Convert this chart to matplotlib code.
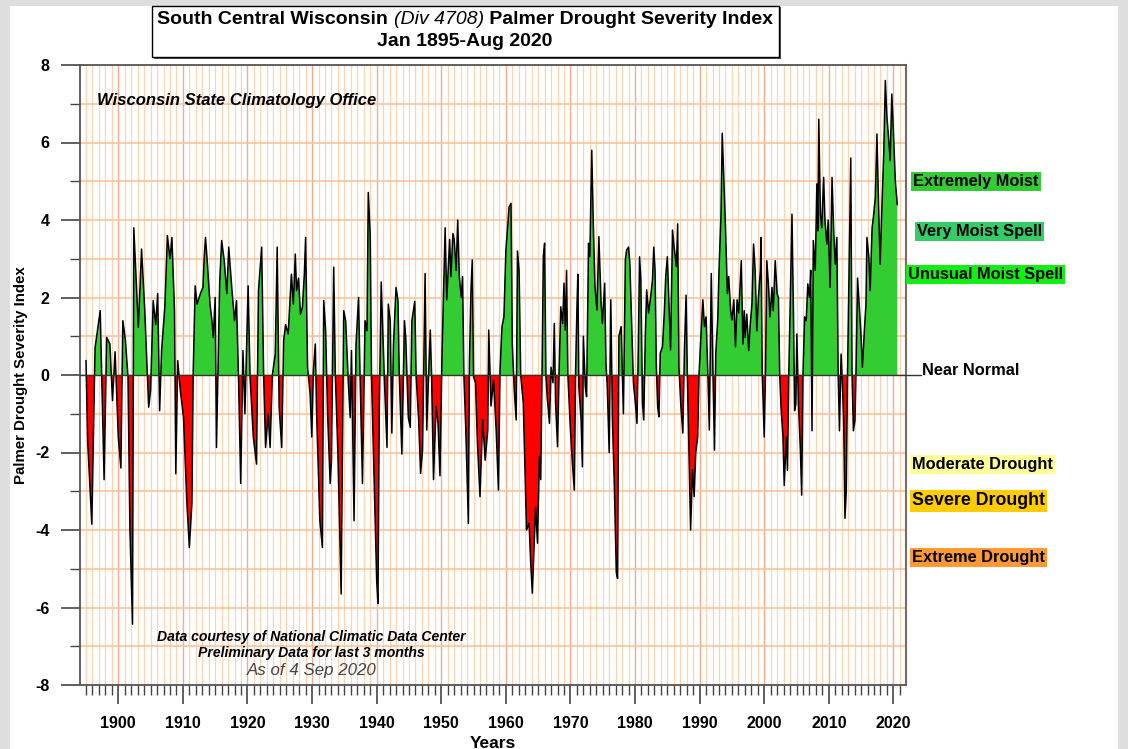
import matplotlib
matplotlib.use("Agg")
import matplotlib.pyplot as plt
from matplotlib.patches import Rectangle
from matplotlib.ticker import MultipleLocator
import numpy as np

# PDSI, as (decimal year, value) turning points
years_1895 = [1895.0, 1895.25, 1895.9, 1896.4, 1897.2, 1897.8, 1898.2, 1898.7, 1899.1, 1899.5,
              1900.0, 1900.4, 1900.7, 1901.1, 1901.5, 1901.8, 1902.2, 1902.4, 1903.1, 1903.6,
              1904.1, 1904.7, 1905.0, 1905.4, 1905.8, 1906.1, 1906.4, 1906.7, 1907.2, 1907.6,
              1908.0, 1908.3, 1908.7, 1908.9, 1909.2, 1909.6, 1910.1, 1910.6, 1911.0, 1911.4,
              1911.6, 1911.9, 1912.2, 1912.7, 1913.1, 1913.3, 1913.5, 1913.8, 1914.2, 1914.5,
              1914.7, 1915.0, 1915.2, 1915.7, 1916.0, 1916.4, 1916.8, 1917.1, 1917.6, 1918.0,
              1918.3, 1918.6, 1918.95, 1919.3, 1919.6]
pdsi_1895 = [0.37, -1.7, -3.85, 0.7, 1.66, -2.7, 0.97, 0.8, -0.66, 0.6,
             -1.6, -2.4, 1.4, 0.9, -0.05, -4.0, -6.43, 3.8, 1.23, 3.25,
             1.66, -0.83, -0.4, 1.92, 1.3, 2.1, -0.92, 0.63, 1.75, 3.6,
             3.0, 3.55, 1.66, -2.55, 0.37, -0.4, -1.1, -3.25, -4.45, -3.3,
             0.1, 2.3, 1.83, 2.1, 2.26, 3.04, 3.55, 2.86, 1.83, 1.4,
             0.97, 2.0, -1.87, 2.43, 3.47, 2.95, 2.1, 3.3, 2.18, 1.4,
             1.92, 0.0, -2.8, 0.63, -1.0]

years_1920 = [1920.1, 1920.4, 1920.9, 1921.4, 1921.7, 1922.2, 1922.5, 1922.8, 1923.2, 1923.5,
              1923.85, 1924.3, 1924.6, 1924.9, 1925.3, 1925.6, 1925.9, 1926.3, 1926.8, 1927.1,
              1927.4, 1927.6, 1927.9, 1928.2, 1928.5, 1928.8, 1929.0, 1929.3, 1929.7, 1929.95,
              1930.2, 1930.5, 1930.7, 1931.2, 1931.6, 1931.8, 1932.1, 1932.4, 1932.8, 1933.0,
              1933.35, 1933.6, 1934.0, 1934.5, 1934.9, 1935.2, 1935.6, 1935.9, 1936.1, 1936.5,
              1936.8, 1937.2, 1937.4, 1937.8, 1938.2, 1938.5, 1938.7, 1939.0, 1939.2, 1939.6,
              1940.0, 1940.2, 1940.4, 1940.7, 1940.9, 1941.2, 1941.6, 1941.8, 1942.1, 1942.35,
              1942.6, 1943.0, 1943.3, 1943.5, 1943.9, 1944.3, 1944.5, 1944.9, 1945.2, 1945.45,
              1945.9]
pdsi_1920 = [2.3, -0.06, -1.6, -2.3, 2.18, 3.3, 0.0, -1.87, -1.0, -1.87,
             0.0, 0.54, 3.3, -0.83, -1.87, 0.89, 1.3, 1.06, 2.6, 1.83,
             3.12, 2.18, 2.5, 1.57, 1.75, 2.6, 3.55, 0.2, -0.5, -1.6,
             0.1, 0.8, -1.0, -3.76, -4.45, 1.92, 1.14, -1.0, -2.8, -2.2,
             2.78, 0.0, -2.04, -5.65, 1.66, 1.4, -0.15, -1.1, 0.63, -3.76,
             0.8, 2.0, 0.2, -2.8, 1.4, 1.14, 4.71, 3.64, 0.0, -2.7,
             -5.3, -5.9, -1.0, 2.4, 1.4, -0.15, -1.87, 1.83, 1.4, -1.5,
             0.8, 2.26, 1.92, 0.0, -2.04, 1.4, 0.97, -1.1, -1.35, 1.4,
             1.9]

years_1946 = [1946.1, 1946.5, 1946.8, 1947.1, 1947.5, 1947.75, 1948.0, 1948.3, 1948.5, 1948.8,
              1949.2, 1949.5, 1949.8, 1950.1, 1950.3, 1950.6, 1950.85, 1951.3, 1951.5, 1951.8,
              1952.0, 1952.3, 1952.55, 1952.8, 1953.1, 1953.3, 1953.5, 1953.8, 1954.2, 1954.36,
              1954.6, 1954.8, 1955.0, 1955.3, 1955.6, 1956.0, 1956.4, 1956.8, 1957.2, 1957.35,
              1957.7, 1958.1, 1958.5, 1958.85, 1959.1, 1959.4, 1959.7, 1960.0, 1960.2, 1960.5,
              1960.8, 1961.0, 1961.3, 1961.6, 1961.8, 1962.05, 1962.3, 1962.7, 1963.2, 1963.6,
              1963.85, 1964.1, 1964.4, 1964.6, 1964.9, 1965.2, 1965.4, 1965.6, 1965.8, 1966.0,
              1966.2, 1966.4, 1966.75, 1967.0, 1967.3, 1967.5, 1967.7, 1968.0, 1968.25, 1968.5,
              1968.8, 1969.0, 1969.2, 1969.4, 1969.6, 1969.95, 1970.3, 1970.6, 1970.8, 1971.0,
              1971.15]
pdsi_1946 = [0.0, -1.16, -2.54, -1.94, 2.62, -1.42, -0.2, 1.16, 0.0, -2.7,
             -0.8, -1.25, -2.6, 0.4, 1.76, 3.8, 1.94, 3.5, 2.54, 3.65,
             3.5, 2.7, 4.0, 2.54, 2.0, 2.54, 0.0, -1.42, -3.83, 0.3,
             2.2, 2.97, -0.05, -0.2, -1.76, -3.14, -1.16, -2.2, -1.42, 1.16,
             -0.8, -0.13, -1.42, -2.97, 0.13, 1.25, 1.5, 3.2, 3.65, 4.34,
             4.43, 0.8, -0.4, -1.16, 3.2, 2.7, 0.0, -0.73, -4.0, -3.83,
             -4.86, -5.63, -4.26, -3.4, -4.34, -2.1, -2.7, 0.0, 3.05, 3.4,
             0.0, -0.56, -1.25, 0.2, -0.2, 1.33, -0.73, -1.85, 0.13, 1.76,
             1.33, 2.37, 1.16, 2.7, 0.0, -1.25, -2.28, -2.97, 0.13, 1.7,
             2.6]

years_1971 = [1971.3, 1971.65, 1971.85, 1972.0, 1972.3, 1972.5, 1972.8, 1973.0, 1973.3, 1973.55,
              1973.8, 1974.1, 1974.4, 1974.75, 1974.95, 1975.3, 1975.5, 1975.7, 1976.0, 1976.25,
              1976.5, 1976.8, 1977.1, 1977.3, 1977.5, 1977.85, 1978.2, 1978.5, 1978.7, 1979.0,
              1979.2, 1979.5, 1979.75, 1980.1, 1980.3, 1980.5, 1980.7, 1980.9, 1981.15, 1981.35,
              1981.6, 1981.8, 1982.1, 1982.4, 1982.7, 1982.9, 1983.1, 1983.3, 1983.5, 1983.7,
              1983.9, 1984.25, 1984.55, 1984.75, 1985.0, 1985.3, 1985.5, 1985.8, 1986.05, 1986.4,
              1986.6, 1986.8, 1987.1, 1987.4, 1987.65, 1987.9, 1988.1, 1988.4, 1988.6, 1988.9,
              1989.15, 1989.4, 1989.7, 1989.9, 1990.2, 1990.5, 1990.75, 1991.0, 1991.3, 1991.5,
              1991.8, 1992.05, 1992.3, 1992.5, 1992.8, 1993.0, 1993.3, 1993.5, 1993.75, 1994.0,
              1994.3, 1994.5, 1994.8, 1995.0, 1995.3, 1995.55, 1995.8, 1996.05, 1996.45]
pdsi_1971 = [-0.3, -1.16, -2.37, 1.0, -0.3, -0.56, 3.4, 3.05, 5.8, 3.83,
             2.28, 1.68, 3.57, 1.85, 1.33, 2.37, 0.3, -0.3, -2.0, 1.94,
             -1.16, -2.88, -5.1, -5.25, 1.0, 1.25, -1.0, 2.97, 3.23, 3.3,
             2.88, 1.25, -0.2, -0.82, -1.25, 0.65, 3.05, 2.45, -0.73, -1.16,
             1.08, 2.2, 1.6, 2.0, 2.45, 3.3, 2.7, 0.2, -0.82, -1.08,
             0.56, 0.73, 1.68, 2.54, 3.05, 1.6, 0.65, 3.74, 3.3, 2.8,
             3.9, 0.2, -0.82, -1.5, 0.65, 2.06, 0.0, -2.45, -4.0, -2.45,
             -3.14, -2.0, -1.6, 0.0, 1.0, 1.94, 1.25, 1.5, -0.13, -1.42,
             2.62, 0.2, -1.94, 0.56, 1.42, 2.7, 4.1, 6.24, 5.0, 3.83,
             2.1, 2.54, 1.68, 1.42, 1.94, 0.73, 1.94, 1.6, 2.95]

years_1996 = [1996.7, 1996.9, 1997.05, 1997.3, 1997.6, 1997.8, 1998.1, 1998.35, 1998.6, 1998.85,
              1999.1, 1999.4, 1999.5, 1999.7, 2000.0, 2000.2, 2000.4, 2000.65, 2000.9, 2001.2,
              2001.4, 2001.7, 2002.0, 2002.2, 2002.4, 2002.6, 2002.9, 2003.1, 2003.4, 2003.6,
              2003.8, 2004.0, 2004.3, 2004.55, 2004.7, 2004.9, 2005.05, 2005.3, 2005.6, 2005.8,
              2006.0, 2006.25, 2006.5, 2006.75, 2007.0, 2007.2, 2007.4, 2007.6, 2007.9, 2008.15,
              2008.3, 2008.45, 2008.7, 2008.9, 2009.2, 2009.4, 2009.7, 2009.9, 2010.2, 2010.5,
              2010.75, 2011.0, 2011.25, 2011.45, 2011.65, 2011.9, 2012.1, 2012.3, 2012.5, 2012.7,
              2012.9, 2013.15, 2013.4, 2013.6, 2013.8, 2014.05, 2014.2, 2014.45, 2014.7, 2014.95,
              2015.2, 2015.5, 2015.75, 2015.9, 2016.2, 2016.4, 2016.7, 2016.9, 2017.2, 2017.45,
              2017.7, 2017.95, 2018.2, 2018.5, 2018.75, 2019.0, 2019.25, 2019.5, 2019.75, 2020.0,
              2020.3, 2020.6]
pdsi_1996 = [0.8, 1.66, 0.97, 1.57, 0.63, 1.23, 1.83, 3.38, 2.7, 1.14,
             2.0, 2.7, 3.55, 0.0, -1.6, 0.1, 2.95, 2.35, 1.5, 2.26,
             1.66, 2.95, 2.1, 2.0, 0.0, -0.83, -1.6, -2.85, -1.6, -2.46,
             0.0, 1.66, 4.15, 1.3, -0.92, -0.75, 1.06, -0.75, -1.95, -3.1,
             0.0, 1.5, 1.4, 2.35, 2.0, 2.7, -1.44, 3.47, 2.7, 4.93,
             3.72, 6.6, 4.15, 3.8, 5.1, 4.0, 3.38, 4.0, 2.26, 5.1,
             3.72, 2.86, 3.55, 0.0, -1.44, 0.54, -0.23, -1.18, -3.7, -3.0,
             0.1, 2.86, 5.6, 0.0, -1.44, -1.18, 0.0, 2.5, 1.83, 1.14,
             0.2, 1.14, 1.83, 3.55, 3.04, 2.18, 3.8, 4.07, 4.58, 6.22,
             4.4, 2.86, 4.24, 5.7, 7.6, 6.65, 6.13, 5.53, 7.25, 6.3,
             5.0, 4.4]

# category labels on the right: text, y value, box colour
cat_labels = ["Extremely Moist", "Very Moist Spell", "Unusual Moist Spell",
              "Moderate Drought", "Severe Drought", "Extreme Drought"]
cat_levels = [5.0, 3.7, 2.6, -2.3, -3.25, -4.7]
cat_colors = ["#33cc33", "#33cc66", "#11ee11", "#ffff99", "#ffcc00", "#ff9933"]

years = np.array(years_1895 + years_1920 + years_1946 + years_1971 + years_1996)
pdsi = np.array(pdsi_1895 + pdsi_1920 + pdsi_1946 + pdsi_1971 + pdsi_1996)

W, H = 1128, 749
plt.rcParams["font.family"] = ["Liberation Sans", "DejaVu Sans"]
plt.rcParams["axes.unicode_minus"] = False
fig = plt.figure(figsize=(W / 100, H / 100), dpi=100, facecolor="#dedede")
fig.patches.append(Rectangle((10 / W, 0), 1108 / W, 743 / H, transform=fig.transFigure,
                             facecolor="white", edgecolor="none", zorder=-5))

ax = fig.add_axes([80 / W, 1 - 685 / H, 826 / W, 620 / H])
ax.set_facecolor("white")
ax.set_xlim(1894.07, 2021.95)
ax.set_ylim(-8, 8)

ax.fill_between(years, pdsi, 0, where=pdsi >= 0, interpolate=True,
                color="#33cc33", lw=0, zorder=2)
ax.fill_between(years, pdsi, 0, where=pdsi <= 0, interpolate=True,
                color="#ff0000", lw=0, zorder=2)
ax.plot(years, pdsi, color="black", lw=1.1, zorder=3)
ax.plot([1894.07, 2024.3], [0, 0], color="#333333", lw=1.0, zorder=3, clip_on=False)

# ticks and grid
ax.set_xticks(np.arange(1900, 2021, 10))
ax.xaxis.set_minor_locator(MultipleLocator(1))
ax.set_yticks(np.arange(-8, 9, 2))
ax.yaxis.set_minor_locator(MultipleLocator(1))
ax.grid(which="minor", axis="x", color="#ffd2b0", lw=0.9)
ax.grid(which="major", axis="x", color="#f7a98a", lw=1.0)
ax.grid(which="both", axis="y", color="#fcc49a", lw=1.2)
ax.set_axisbelow(True)

ax.tick_params(which="major", direction="out", length=14, width=1.2, color="#444444",
               labelsize=11.5, pad=8)
ax.tick_params(which="minor", direction="out", length=7, width=1.0, color="#444444")
ax.tick_params(axis="y", which="major", pad=8)
for lab in ax.get_xticklabels() + ax.get_yticklabels():
    lab.set_fontweight("bold")
for side in ["left", "bottom", "top"]:
    ax.spines[side].set_color("#555555")
    ax.spines[side].set_linewidth(1.3)
ax.spines["right"].set_color("#7a6a60")
ax.spines["right"].set_linewidth(1.5)

ax.set_xlabel("Years", fontsize=12.5, fontweight="bold", labelpad=4)
ax.set_ylabel("Palmer Drought Severity Index", fontsize=10.8, fontweight="bold", labelpad=5)

# text inside the plot
fig.text(97 / W, 1 - 101 / H, "Wisconsin State Climatology Office",
         fontsize=12, fontweight="bold", fontstyle="italic", va="center")
ax.text(0.28, 0.078, "Data courtesy of National Climatic Data Center",
        transform=ax.transAxes, ha="center", va="center",
        fontsize=10.1, fontweight="bold", fontstyle="italic")
ax.text(0.28, 0.052, "Preliminary Data for last 3 months",
        transform=ax.transAxes, ha="center", va="center",
        fontsize=10.1, fontweight="bold", fontstyle="italic")
ax.text(0.28, 0.024, "As of 4 Sep 2020", transform=ax.transAxes, ha="center",
        va="center", fontsize=12.2, fontstyle="italic", color="#444444")

# category labels to the right of the plot
for lab, lev, col in zip(cat_labels, cat_levels, cat_colors):
    size = 12.8 if lab == "Severe Drought" else 11.8
    xpos = 2022.9 if "Drought" in lab else (2023.1 if lab == "Extremely Moist" else 2023.7)
    if lab == "Unusual Moist Spell":
        xpos = 2022.2
    ax.text(xpos, lev, lab, fontsize=size, fontweight="bold", va="center",
            clip_on=False,
            bbox=dict(boxstyle="square,pad=0.12", facecolor=col, edgecolor="none"))
ax.text(2024.4, 0.12, "Near Normal", fontsize=11.8, fontweight="bold", va="center",
        clip_on=False)

# title box
fig.patches.append(Rectangle((154 / W, 1 - 59 / H), 627 / W, 52 / H,
                             transform=fig.transFigure, facecolor="#555555",
                             edgecolor="none", zorder=1))
fig.patches.append(Rectangle((152 / W, 1 - 57 / H), 627 / W, 51 / H,
                             transform=fig.transFigure, facecolor="white",
                             edgecolor="black", lw=1.0, zorder=2))
renderer = fig.canvas.get_renderer()
parts = [("South Central Wisconsin ", "bold", "normal"),
         ("(Div 4708)", "normal", "italic"),
         (" Palmer Drought Severity Index", "bold", "normal")]
widths = []
for txt, wt, st in parts:
    t = fig.text(0, 0, txt, fontsize=14, fontweight=wt, fontstyle=st)
    widths.append(t.get_window_extent(renderer).width)
    t.remove()
x = (465 - sum(widths) / 2) / W
for (txt, wt, st), w in zip(parts, widths):
    fig.text(x, 1 - 19 / H, txt, fontsize=14, fontweight=wt, fontstyle=st,
             va="center", zorder=3)
    x += w / W
fig.text(465 / W, 1 - 41 / H, "Jan 1895-Aug 2020", fontsize=14, fontweight="bold",
         ha="center", va="center", zorder=3)

fig.savefig("out.png", dpi=100, facecolor=fig.get_facecolor())
